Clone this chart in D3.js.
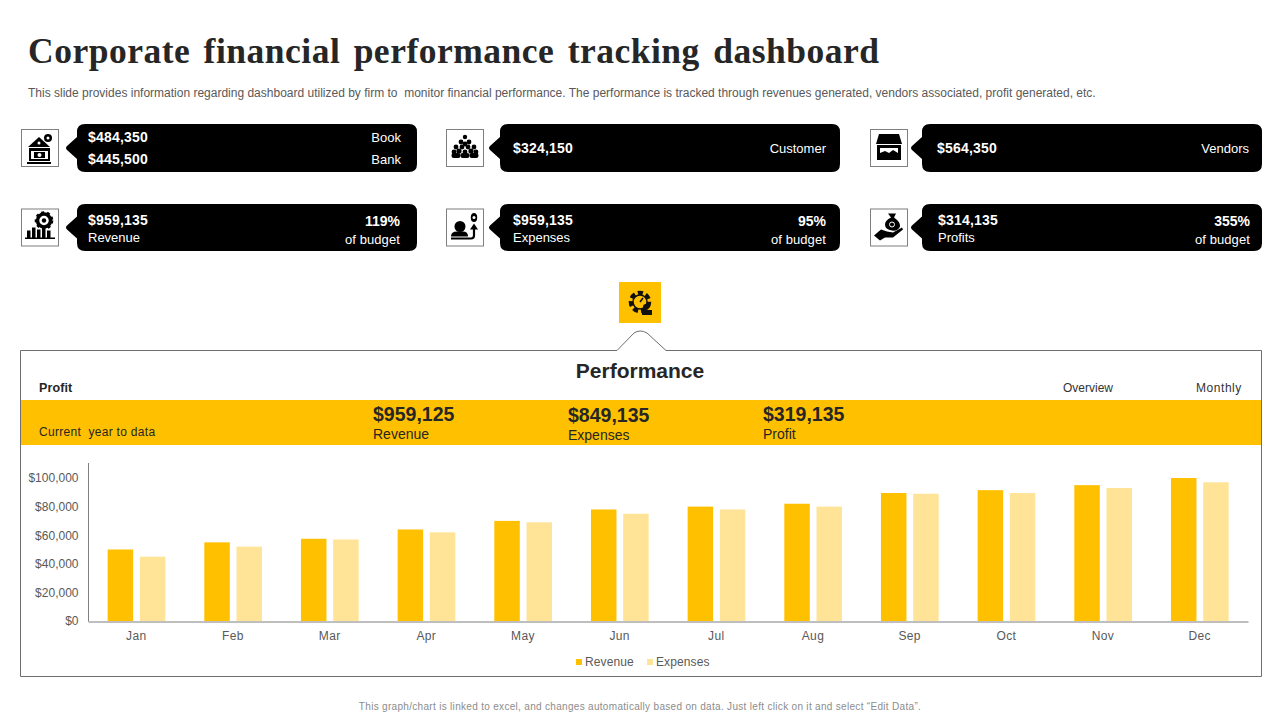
<!DOCTYPE html>
<html><head><meta charset="utf-8">
<script src="https://cdn.jsdelivr.net/npm/d3@7"></script>
<style>
html,body{margin:0;padding:0;background:#fff;overflow:hidden}
svg{display:block}
text{font-family:"Liberation Sans",Arial,sans-serif;white-space:pre}
</style></head><body>
<svg id="c" width="1280" height="720"></svg>
<script>
const months = ["Jan","Feb","Mar","Apr","May","Jun","Jul","Aug","Sep","Oct","Nov","Dec"];
const revenue = [50000,55000,57500,64000,70000,78000,80000,82000,89500,91500,95000,100000];
const expenses = [45000,52000,57000,62000,69000,75000,78000,80000,89000,89500,93000,97000];
const yTicks = [0,20000,40000,60000,80000,100000];
const seriesNames = ["Revenue","Expenses"];
const seriesColors = ["#FFC000","#FFE498"];
const cardTopLeft = ["$484,350","$324,150","$564,350","$959,135","$959,135","$314,135"];
const cardSubLeft = ["$445,500","","","Revenue","Expenses","Profits"];
const cardTopRight = ["Book","Customer","Vendors","119%","95%","355%"];
const cardSubRight = ["Bank","","","of budget","of budget","of budget"];
const kpiValues = ["$959,125","$849,135","$319,135"];
const kpiLabels = ["Revenue","Expenses","Profit"];

const svg = d3.select("#c");
const T = (x,y,s,size,opt={}) => svg.append("text").attr("x",x).attr("y",y).text(s)
  .attr("font-size",size).attr("fill",opt.fill||"#262626")
  .attr("font-weight",opt.bold?"bold":"normal")
  .attr("text-anchor",opt.anchor||"start")
  .attr("letter-spacing",opt.ls||0)
  .attr("word-spacing",opt.ws||0)
  .style("font-family",opt.family||null);

// Header
T(28,63,"Corporate financial performance tracking dashboard",35.5,{bold:true,family:'"Liberation Serif",serif',ls:0.5,ws:4,fill:"#262626"});
T(28,97,"This slide provides information regarding dashboard utilized by firm to  monitor financial performance. The performance is tracked through revenues generated, vendors associated, profit generated, etc.",12,{fill:"#595959",ls:0});

// Cards
const cardGeom = [
 {bx:21,x:77,r:417,y:124,b:172},{bx:446,x:500,r:840,y:124,b:172},{bx:870,x:922,r:1262,y:124,b:172},
 {bx:21,x:77,r:417,y:204,b:251},{bx:446,x:500,r:840,y:204,b:251},{bx:870,x:922,r:1262,y:204,b:251}];
function cardPath(g){
  const r=8, m=(g.y+g.b)/2;
  return `M${g.x+r},${g.y}H${g.r-r}Q${g.r},${g.y} ${g.r},${g.y+r}V${g.b-r}Q${g.r},${g.b} ${g.r-r},${g.b}H${g.x+r}Q${g.x},${g.b} ${g.x},${g.b-r}V${m+11}L${g.x-10},${m+2}Q${g.x-12},${m} ${g.x-10},${m-2}L${g.x},${m-11}V${g.y+r}Q${g.x},${g.y} ${g.x+r},${g.y}Z`;
}
const icons = [
 // bank / safe with coin
 g=>{g.append("path").attr("d","M-12,-1L-1,-11L10,-1Z");g.append("rect").attr("x",-11).attr("y",0).attr("width",21).attr("height",13);g.append("rect").attr("x",-9).attr("y",3).attr("width",17).attr("height",8).attr("fill","#fff");g.append("rect").attr("x",-6).attr("y",4).attr("width",11).attr("height",6);g.append("circle").attr("cx",-0.5).attr("cy",7).attr("r",2).attr("fill","#fff");g.append("rect").attr("x",-13).attr("y",14).attr("width",24).attr("height",2);g.append("circle").attr("cx",8).attr("cy",-10).attr("r",4);g.append("circle").attr("cx",8).attr("cy",-10).attr("r",1.5).attr("fill","#fff");g.append("circle").attr("cx",-1).attr("cy",-5).attr("r",1.5).attr("fill","#fff");},
 // people group
 g=>{[[0,-11,2.2],[-4,-6,2.4],[4,-6,2.4],[0,-4,2.4],[-9,-1,2.4],[-3,-1,2.4],[3,-1,2.4],[9,-1,2.4],[-6,3,2.6],[6,3,2.6],[-11,4,2.4],[0,4,2.4],[11,4,2.4]].forEach(d=>g.append("circle").attr("cx",d[0]).attr("cy",d[1]).attr("r",d[2]));[-9,0,9].forEach(c=>g.append("rect").attr("x",c-4.5).attr("y",5).attr("width",9).attr("height",5).attr("rx",2.2));},
 // store
 g=>{g.append("path").attr("d","M-10,-14H10L13,-4H-13Z");g.append("path").attr("fill-rule","evenodd").attr("d","M-12,-3H12V12H-12ZM-9,0V9H9V0Z");g.append("path").attr("d","M-9,9V5L-4,3L0,5L4,2L9,5V9Z");},
 // chart with gear
 g=>{[[-13,3,8],[-8,0,11],[-3,2,9],[2,-1,12],[7,3,8]].forEach(d=>g.append("rect").attr("x",d[0]).attr("y",d[1]).attr("width",3.5).attr("height",d[2]));g.append("rect").attr("x",-15).attr("y",10).attr("width",30).attr("height",1.5);g.append("circle").attr("cx",4).attr("cy",-7).attr("r",6.5).attr("fill","#fff").attr("stroke","#000").attr("stroke-width",3.5);g.append("circle").attr("cx",4).attr("cy",-7).attr("r",8.3).attr("fill","none").attr("stroke","#000").attr("stroke-width",2).attr("stroke-dasharray","3 3");g.append("circle").attr("cx",4).attr("cy",-7).attr("r",2.2);},
 // person and bag
 g=>{g.append("circle").attr("cx",-5).attr("cy",-1).attr("r",5.5);g.append("path").attr("d","M-14,9Q-14,4 -8,4H-2Q3,4 3,9Z");g.append("path").attr("d","M-14,11H6Q9,11 9,8V1").attr("fill","none").attr("stroke","#000").attr("stroke-width",2.2);g.append("path").attr("d","M9,-4L13,2H5Z");g.append("ellipse").attr("cx",9).attr("cy",-10).attr("rx",3.2).attr("ry",4.5);g.append("circle").attr("cx",9).attr("cy",-10).attr("r",1.5).attr("fill","#fff");},
 // hand and money bag
 g=>{g.append("path").attr("d","M-1,-14L7,-14L5,-10Q12,-5 11,-1Q9,4 3,3Q-4,2 -4,-3Q-4,-7 2,-10Z");g.append("path").attr("d","M-15,8L-8,2L-2,4L4,5L13,0L14,2L4,10L-4,10L-9,13Z");g.append("circle").attr("cx",3).attr("cy",-3).attr("r",2.5).attr("fill","none").attr("stroke","#fff");}
];
const leftPad=[11,13,15,11,13,16], rightPad=[16,14,13,17,14,12];
cardGeom.forEach((g,i)=>{
  svg.append("rect").attr("x",g.bx+.5).attr("y",(g.y+g.b)/2-18.5).attr("width",37).attr("height",37).attr("fill","#fff").attr("stroke","#7f7f7f");
  icons[i](svg.append("g").attr("transform",`translate(${g.bx+19},${(g.y+g.b)/2})`).attr("fill","#000"));
  svg.append("path").attr("d",cardPath(g)).attr("fill","#000");
  const lx = g.x+leftPad[i], rx=g.r-rightPad[i];
  const two = cardSubLeft[i]!=="";
  const v={fill:"#fff",bold:true,ls:.2}, l={fill:"#fff"}, lr={fill:"#fff",anchor:"end"};
  if(i==0){
    T(lx,142,cardTopLeft[i],14,v); T(lx,164,cardSubLeft[i],14,v);
    T(rx,142,cardTopRight[i],13,lr); T(rx,164,cardSubRight[i],13,lr);
  } else if(!two){
    T(lx,153,cardTopLeft[i],14,v);
    T(rx,153,cardTopRight[i],13,lr);
  } else {
    T(lx,225,cardTopLeft[i],14,v); T(lx,242,cardSubLeft[i],13,{fill:"#fff"});
    T(rx,226,cardTopRight[i],14,{fill:"#fff",bold:true,anchor:"end"}); T(rx,244,cardSubRight[i],13,{fill:"#fff",anchor:"end",ls:.1});
  }
});

// Performance badge
svg.append("rect").attr("x",619).attr("y",282).attr("width",42).attr("height",41).attr("fill","#FFC000");
const pb = svg.append("g").attr("transform","translate(640,302)");
pb.append("circle").attr("r",9).attr("fill","none").attr("stroke","#111").attr("stroke-width",4.5).attr("stroke-dasharray","5 3");
pb.append("circle").attr("r",7).attr("fill","#FFC000").attr("stroke","#111").attr("stroke-width",1.5);
pb.append("path").attr("d","M0,0L3,-4").attr("stroke","#111").attr("stroke-width",1.5);
pb.append("circle").attr("cx",6).attr("cy",5).attr("r",3).attr("fill","#111");
pb.append("rect").attr("x",2).attr("y",8).attr("width",10).attr("height",5).attr("fill","#111");

// Panel outline
svg.append("path").attr("d","M20.5,350.5H617L634,333Q640,329 647,333L666,350.5H1261.5V676.5H20.5Z").attr("fill","#fff").attr("stroke","#6e6e6e").attr("stroke-width",1);
T(640,378,"Performance",21,{bold:true,anchor:"middle"});
T(39,392,"Profit",12.5,{bold:true,ls:.1});
T(1063,392,"Overview",12,{fill:"#333"});
T(1196,392,"Monthly",12,{fill:"#333",ls:.55});
svg.append("rect").attr("x",21).attr("y",400).attr("width",1240).attr("height",45).attr("fill","#FFC000");
T(39,436,"Current  year to data",12,{fill:"#262626",ls:.3});
const kx=[373,568,763], kv=[421,422,421], kl=[439,440,439];
kpiValues.forEach((v,i)=>{T(kx[i],kv[i],v,19.5,{bold:true});T(kx[i],kl[i],kpiLabels[i],14,{fill:"#262626"});});

// Chart
const x0 = d3.scaleBand().domain(months).range([88,1248]);
const y = d3.scaleLinear().domain([0,110000]).range([621,463.7]);
const barW = 25.5, off=[-28.7,3.5];
[revenue,expenses].forEach((s,k)=>{
  svg.append("g").selectAll("rect").data(s).join("rect")
   .attr("x",(d,i)=>x0(months[i])+x0.bandwidth()/2+off[k])
   .attr("y",d=>y(d)).attr("width",barW).attr("height",d=>y(0)-y(d)).attr("fill",seriesColors[k]);
});
const ax = svg.append("g").attr("transform","translate(0,621.5)").call(d3.axisBottom(x0).tickSize(0).tickPadding(10));
ax.select(".domain").attr("stroke","#7f7f7f");
ax.selectAll("text").attr("font-size",12).attr("fill","#595959").attr("letter-spacing",.4).style("font-family",'"Liberation Sans"');
const ay = svg.append("g").attr("transform","translate(88.5,0)").call(d3.axisLeft(y).tickValues(yTicks).tickSize(0).tickPadding(10).tickFormat(d3.format("$,")));
ay.select(".domain").attr("stroke","#7f7f7f").attr("d","M0,463V621.5");
ay.selectAll("text").attr("font-size",12).attr("fill","#595959").style("font-family",'"Liberation Sans"');

// Legend
const lgx=[576,647];
seriesNames.forEach((n,i)=>{
  svg.append("rect").attr("x",lgx[i]).attr("y",659).attr("width",6).attr("height",6).attr("fill",seriesColors[i]);
  T(lgx[i]+9,666,n,12,{fill:"#595959",ls:.1});
});
T(640,710,"This graph/chart is linked to excel, and changes automatically based on data. Just left click on it and select \u201CEdit Data\u201D.",10,{anchor:"middle",fill:"#8c8c8c",ls:.31});
</script></body></html>
